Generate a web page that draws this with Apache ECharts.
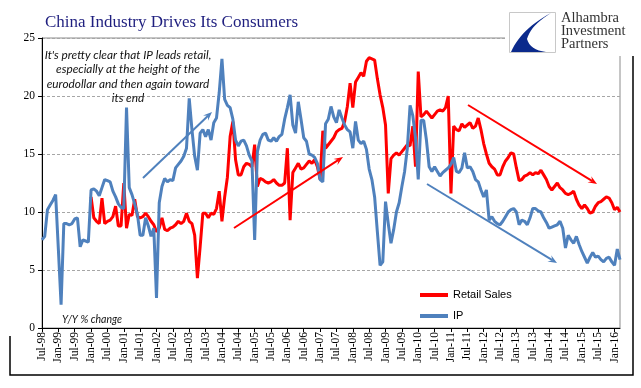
<!DOCTYPE html>
<html>
<head>
<meta charset="utf-8">
<script src="https://cdn.jsdelivr.net/npm/echarts@6/dist/echarts.min.js"></script>
<style>
html,body{margin:0;padding:0;background:#fff;}
#chart{width:641px;height:388px;}
</style>
</head>
<body>
<div id="chart"></div>
<script>
// ---- Data (monthly, Jul-98 .. Mar-16), Y/Y % change ----
const startYear = 1998, startMonth = 6; // Jul-98 (0-based month)
const monthNames = ['Jan','Feb','Mar','Apr','May','Jun','Jul','Aug','Sep','Oct','Nov','Dec'];

const ipValues = [
 7.6,7.9,10.2,10.6,11.0,11.5,6.8,2.0,9.0,9.0,8.9,9.0,9.4,9.5,7.0,7.6,7.5,7.4,
 11.9,12.0,11.8,11.4,12.1,12.8,12.7,12.6,11.8,11.3,10.7,10.4,10.3,19.0,12.1,11.5,10.7,9.8,
 8.0,8.0,9.5,8.8,7.9,8.6,2.6,10.8,12.2,12.9,12.6,12.8,12.7,13.8,14.1,14.4,14.8,15.5,
 19.8,17.1,14.8,13.6,16.8,17.1,16.5,17.1,16.2,17.7,18.1,20.3,23.2,19.7,19.2,19.0,18.0,16.2,
 15.7,16.1,16.2,15.7,14.9,14.4,7.6,15.2,16.2,16.7,16.8,16.2,16.1,16.4,16.1,16.5,16.7,18.0,
 19.0,20.1,17.5,16.8,19.5,18.0,16.4,16.1,15.0,14.9,14.7,14.2,12.8,12.6,17.6,18.0,19.1,18.2,
 17.7,18.8,18.1,17.5,17.1,16.9,15.5,17.8,16.2,15.9,16.1,15.4,13.7,12.8,11.3,8.3,5.4,5.7,
 10.9,9.0,7.3,8.5,10.0,10.8,12.2,13.5,15.5,19.2,18.3,16.4,12.8,17.9,17.9,16.2,13.9,13.5,
 13.9,13.5,13.1,13.4,13.6,13.8,14.1,14.7,13.5,13.4,13.8,15.1,13.8,13.9,13.5,12.8,12.6,11.9,
 11.3,11.9,9.3,9.6,9.2,9.0,8.9,9.2,9.6,10.0,10.2,10.3,10.0,8.9,9.3,9.2,8.9,9.5,
 10.3,10.3,10.1,10.0,9.5,9.1,8.6,8.7,8.8,8.9,9.2,8.6,6.9,8.0,7.6,7.3,7.9,7.2,
 6.6,6.1,5.6,6.1,6.5,6.1,6.2,5.9,5.7,6.0,6.1,5.7,5.4,6.8,5.9
];

const retailValues = [
 null,null,null,null,null,null,null,null,null,null,null,null,null,null,null,null,null,null,
 11.3,9.5,9.2,9.0,11.2,9.0,9.2,9.3,9.6,10.5,8.8,8.8,12.5,8.6,9.8,9.7,11.1,9.6,
 9.5,9.6,9.9,9.6,9.2,8.9,8.3,8.6,9.5,8.5,8.4,8.6,8.7,8.9,9.2,9.0,9.2,9.9,
 9.2,9.0,8.0,4.3,7.0,9.9,9.9,9.5,9.9,9.8,10.3,11.8,9.2,11.3,13.0,16.5,17.8,14.5,
 13.2,13.2,13.9,14.2,14.1,13.9,15.8,12.2,12.9,12.8,12.6,12.5,12.6,12.8,12.5,12.3,12.3,12.5,
 15.5,9.3,13.4,13.8,14.2,13.7,13.8,14.1,14.4,14.2,14.5,13.9,12.8,17.0,15.5,15.8,16.1,16.4,
 16.9,17.1,17.2,17.8,19.1,21.1,19.0,21.2,21.6,22.0,21.7,23.0,23.3,23.2,23.1,21.5,20.1,19.0,
 17.5,11.6,14.6,14.9,15.1,14.9,15.2,15.5,15.8,15.7,17.4,13.9,22.1,18.2,18.4,18.7,18.4,18.1,
 18.4,18.7,18.8,18.7,19.0,20.0,11.6,17.4,17.1,17.0,17.6,17.3,17.5,17.7,17.2,17.4,18.1,17.1,
 15.9,15.0,14.2,13.9,13.7,13.2,13.2,13.9,14.4,14.7,15.1,15.0,13.8,12.7,12.8,13.1,13.2,13.4,
 13.2,13.4,13.3,13.6,13.2,12.8,12.2,11.9,12.2,12.5,12.1,11.9,11.6,11.5,11.6,11.8,11.1,10.6,
 10.3,10.6,10.3,9.9,10.0,10.5,10.8,10.9,11.1,11.3,11.2,10.8,10.2,10.4,10.0
];

const yTicks = [0, 5, 10, 15, 20, 25];
const seriesNames = ['Retail Sales', 'IP'];
const titleText = 'China Industry Drives Its Consumers';
const noteLines = ["It's pretty clear that IP leads retail,", 'especially at the height of the', 'eurodollar and then again toward', 'its end'];
const unitText = 'Y/Y % change';
const logoLines = ['Alhambra', 'Investment', 'Partners'];

const categories = [];
for (let i = 0; i < ipValues.length; i++) {
  const m = (startMonth + i) % 12;
  const y = startYear + Math.floor((startMonth + i) / 12);
  categories.push(monthNames[m] + '-' + String(y % 100).padStart(2, '0'));
}

const RED = '#ff0000';
const BLUE = '#4f81bd';
const SERIF = '"Liberation Serif", "DejaVu Serif", serif';
const SANS = '"Liberation Sans", Arial, sans-serif';
const NOTE = 'Lato, "Liberation Sans", sans-serif';

function arrow(x1, y1, x2, y2, color) {
  const ang = Math.atan2(y2 - y1, x2 - x1);
  const L = 9, W = 3.6;
  const bx = x2 - L * Math.cos(ang), by = y2 - L * Math.sin(ang);
  const px = -Math.sin(ang) * W, py = Math.cos(ang) * W;
  const ix = x2 - 0.6 * L * Math.cos(ang), iy = y2 - 0.6 * L * Math.sin(ang);
  return [
    { type: 'line', z: 50, shape: { x1: x1, y1: y1, x2: ix, y2: iy }, style: { stroke: color, lineWidth: 2 } },
    { type: 'polygon', z: 50, shape: { points: [[x2, y2], [bx + px, by + py], [ix, iy], [bx - px, by - py]] }, style: { fill: color } }
  ];
}
function quad(p0, p1, p2, n) {
  const pts = [];
  for (let k = 0; k <= n; k++) {
    const t = k / n, a = (1 - t) * (1 - t), b = 2 * (1 - t) * t, c = t * t;
    pts.push([a * p0[0] + b * p1[0] + c * p2[0], a * p0[1] + b * p1[1] + c * p2[1]]);
  }
  return pts;
}

const graphics = [];
// title
graphics.push({ type: 'text', x: 45, y: 14, z: 60,
  style: { text: titleText, font: '17px ' + SERIF, fill: '#1f1f7f', textVerticalAlign: 'top' } });
// logo
graphics.push({ type: 'rect', z: 59, shape: { x: 505, y: 6, width: 132, height: 50 }, style: { fill: '#fff', stroke: null } });
graphics.push({ type: 'rect', z: 60, shape: { x: 509.5, y: 12.5, width: 46, height: 40 },
  style: { fill: '#fff', stroke: '#c8c8c8', lineWidth: 1 } });
const swoosh = quad([511, 52], [521, 29], [551, 13], 14)
  .concat(quad([551, 13], [531, 25], [527, 39], 10))
  .concat(quad([527, 39], [530, 50], [546, 52], 8));
graphics.push({ type: 'polygon', z: 61, shape: { points: swoosh }, style: { fill: '#0b2a8c' } });
logoLines.forEach(function (t, k) {
  graphics.push({ type: 'text', x: 561, y: 11 + k * 13, z: 61, style: { text: t, font: '14.5px ' + SERIF, fill: '#333', textVerticalAlign: 'top' } });
});
// annotation
noteLines.forEach(function (t, k) {
  graphics.push({ type: 'text', z: 55, x: 128, y: 55 + k * 14.4,
    style: { text: t, font: 'italic 11.8px ' + NOTE, fill: '#111', textAlign: 'center', textVerticalAlign: 'middle' } });
});
graphics.push({ type: 'text', z: 55, x: 62, y: 320,
  style: { text: unitText, font: 'italic 10.5px ' + NOTE, fill: '#111', textAlign: 'left', textVerticalAlign: 'middle' } });
// arrows
arrow(143, 178, 212, 112, BLUE).forEach(function (g) { graphics.push(g); });
arrow(234, 228, 343, 157, RED).forEach(function (g) { graphics.push(g); });
arrow(468, 105, 597, 184, RED).forEach(function (g) { graphics.push(g); });
arrow(427, 184, 557, 263, BLUE).forEach(function (g) { graphics.push(g); });
// outer frame pieces
graphics.push({ type: 'polyline', z: 40, shape: { points: [[10, 336], [10, 375], [633, 375], [633, 56]] },
  style: { stroke: '#000', lineWidth: 1.5, fill: null } });

const chart = echarts.init(document.getElementById('chart'), null, { renderer: 'canvas' });
chart.setOption({
  animation: false,
  backgroundColor: '#fff',
  grid: { left: 42, right: 21, top: 38, bottom: 60, show: true, borderColor: '#8c8c8c', borderWidth: 1, backgroundColor: 'transparent' },
  legend: {
    data: seriesNames, orient: 'vertical', left: 415, top: 283, itemWidth: 28, itemHeight: 4, itemGap: 7,
    icon: 'rect', textStyle: { fontFamily: SANS, fontSize: 11, color: '#000', lineHeight: 14 }
  },
  xAxis: {
    type: 'category', data: categories, boundaryGap: false,
    axisLine: { lineStyle: { color: '#000', width: 1 } },
    axisTick: { show: true, interval: 5, length: 4, lineStyle: { color: '#000' } },
    axisLabel: { interval: 5, rotate: 90, fontFamily: SERIF, fontSize: 11.5, color: '#000', margin: 4 },
    splitLine: { show: false }
  },
  yAxis: {
    type: 'value', min: yTicks[0], max: yTicks[yTicks.length - 1], interval: 5,
    axisLine: { show: true, lineStyle: { color: '#000', width: 1 } },
    axisTick: { show: true, length: 4, lineStyle: { color: '#000' } },
    axisLabel: { fontFamily: SERIF, fontSize: 11.5, color: '#000', margin: 7 },
    splitLine: { show: true, lineStyle: { color: '#a6a6a6', type: [3, 2], width: 1 } }
  },
  series: [
    { name: seriesNames[0], type: 'line', data: retailValues, showSymbol: false, symbol: 'none',
      lineStyle: { color: RED, width: 3 }, itemStyle: { color: RED }, connectNulls: false, z: 3 },
    { name: seriesNames[1], type: 'line', data: ipValues, showSymbol: false, symbol: 'none',
      lineStyle: { color: BLUE, width: 3 }, itemStyle: { color: BLUE }, z: 4 }
  ],
  graphic: graphics
});
</script>
</body>
</html>
